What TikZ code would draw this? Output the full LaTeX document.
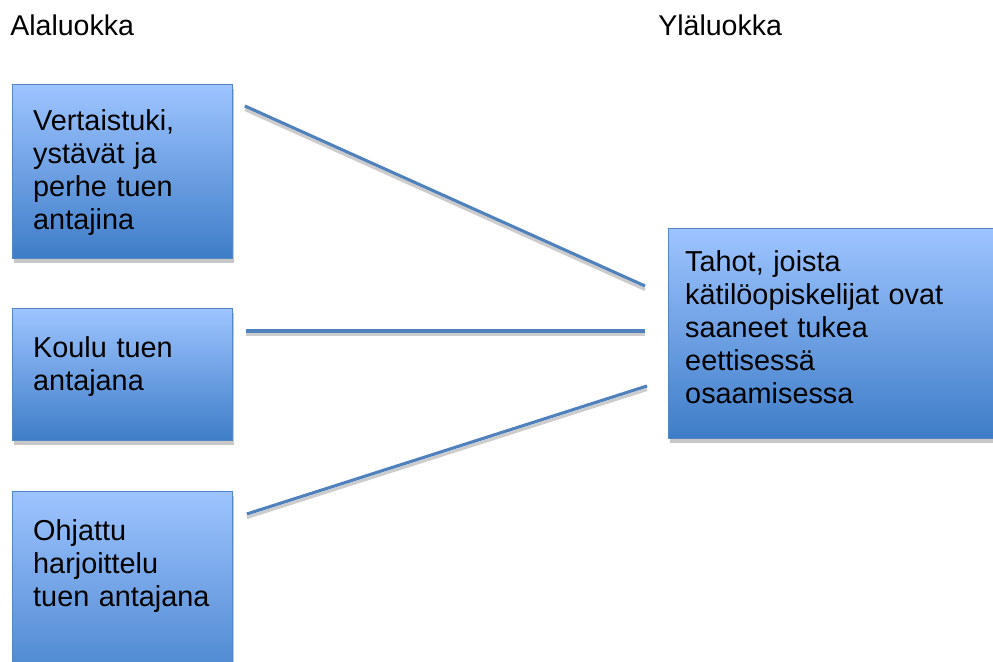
\documentclass[tikz,border=0pt]{standalone}
\usepackage{fontspec}
\setmainfont{Liberation Sans}
\usetikzlibrary{calc,shadows}
\definecolor{boxtop}{RGB}{158,196,255}
\definecolor{boxbottom}{RGB}{62,125,200}
\definecolor{boxline}{RGB}{84,134,196}
\definecolor{linkblue}{RGB}{79,129,189}

\begin{document}
\begin{tikzpicture}[
		luokka/.style={anchor=base west, inner sep=0pt, font=\fontsize{20.3}{23.5}\selectfont},
		laatikko/.style={anchor=north west, draw=boxline, line width=0.6pt, top color=boxtop, bottom color=boxbottom,
			align=left, inner ysep=0pt, font=\fontsize{20.5}{23.5}\selectfont,
			drop shadow={shadow xshift=1pt, shadow yshift=-3pt, fill=black, opacity=0.22}},
		yhteys/.style={draw=linkblue, line width=2.2pt,
			preaction={draw=black!20, line width=2.2pt, transform canvas={yshift=-2.5pt}}}
	]
			%%%%% START %%%%%
			
			\useasboundingbox (0, 0) rectangle (24.825, 16.55);
			
			\node[luokka] (ala) at (0.25, 15.65) {Alaluokka};
			\node[luokka] (yla) at (16.45, 15.65) {Yläluokka};
			
			\node[laatikko, inner xsep=0.52cm, text width=4.46cm, text height=1.15cm, text depth=3.2cm] (vertais) at (0.3, 14.45)
				{Vertaistuki,\\ystävät ja\\perhe tuen\\antajina};
			\node[laatikko, inner xsep=0.52cm, text width=4.46cm, text height=1.225cm, text depth=2.075cm] (koulu) at (0.3, 8.85)
				{Koulu tuen\\antajana};
			\node[laatikko, inner xsep=0.52cm, text width=4.46cm, text height=1.225cm, text depth=4.15cm] (ohjattu) at (0.3, 4.275)
				{Ohjattu\\harjoittelu\\tuen antajana};
			
			\node[laatikko, inner xsep=0.42cm, text width=7.8cm, text height=1.075cm, text depth=4.175cm] (tahot) at (16.7, 10.85)
				{Tahot, joista\\kätilöopiskelijat ovat\\saaneet tukea\\eettisessä\\osaamisessa};
			
			\draw[yhteys] ([shift={(0.3,-0.55)}]vertais.north east) -- ([shift={(-0.575,-1.45)}]tahot.north west);
			\draw[yhteys] ([shift={(0.325,-0.575)}]koulu.north east) -- ([shift={(-0.575,-2.575)}]tahot.north west);
			\draw[yhteys] ([shift={(0.35,-0.575)}]ohjattu.north east) -- ([shift={(-0.525,-3.95)}]tahot.north west);
			
			%%%%% END %%%%%
\end{tikzpicture}
\end{document}
